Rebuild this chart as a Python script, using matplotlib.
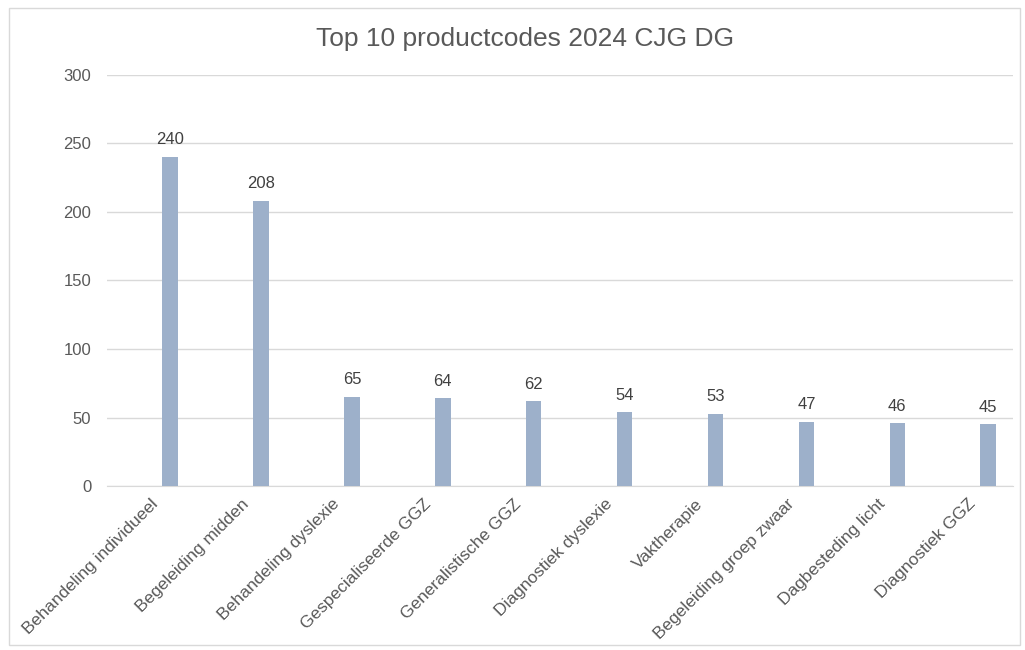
import matplotlib.pyplot as plt
from matplotlib.patches import Rectangle
from matplotlib.transforms import ScaledTranslation

plt.rcParams['font.family'] = ['Liberation Sans', 'DejaVu Sans']

categories = ['Behandeling individueel', 'Begeleiding midden', 'Behandeling dyslexie',
              'Gespecialiseerde GGZ', 'Generalistische GGZ', 'Diagnostiek dyslexie',
              'Vaktherapie', 'Begeleiding groep zwaar', 'Dagbesteding licht', 'Diagnostiek GGZ']
values = [240, 208, 65, 64, 62, 54, 53, 47, 46, 45]

text_col = '#595959'
bar_col = '#9DB0CA'

fig = plt.figure(figsize=(10.25, 6.5), dpi=100)
ax = fig.add_axes([0.104, 0.252, 0.884, 0.633])

x = list(range(len(categories)))
bars = ax.bar(x, values, width=0.17, color=bar_col, zorder=3)
for b, v in zip(bars, values):
    ax.text(b.get_x() + b.get_width() / 2, v + 7, str(v), ha='center', va='bottom',
            fontsize=12, color='#404040')

ax.set_ylim(0, 300)
ax.set_xlim(-0.7, 9.27)
ax.set_yticks(range(0, 301, 50))
ax.yaxis.grid(True, color='#D9D9D9', lw=1, zorder=0)
ax.set_xticks(x)
ax.set_xticklabels([])

# category labels, rotated, slightly left of the bar like Excel does
shift = ScaledTranslation(-20 / 100, -10 / 100, fig.dpi_scale_trans)
for i, cat in zip(x, categories):
    ax.text(i, 0, cat, rotation=45, ha='right', va='top', rotation_mode='anchor',
            fontsize=12.5, color=text_col,
            transform=ax.get_xaxis_transform() + shift)

ax.tick_params(axis='both', length=0, colors=text_col)
ax.tick_params(axis='y', pad=11, labelsize=12)
for s in ['top', 'right', 'left']:
    ax.spines[s].set_visible(False)
ax.spines['bottom'].set_color('#D9D9D9')

fig.text(0.512, 0.94, 'Top 10 productcodes 2024 CJG DG', ha='center', va='center',
         fontsize=19, color=text_col)

fig.patches.append(Rectangle((0.009, 0.008), 0.986, 0.98, transform=fig.transFigure,
                             fill=False, edgecolor='#D9D9D9', lw=1))

fig.savefig('out.png', dpi=100)
